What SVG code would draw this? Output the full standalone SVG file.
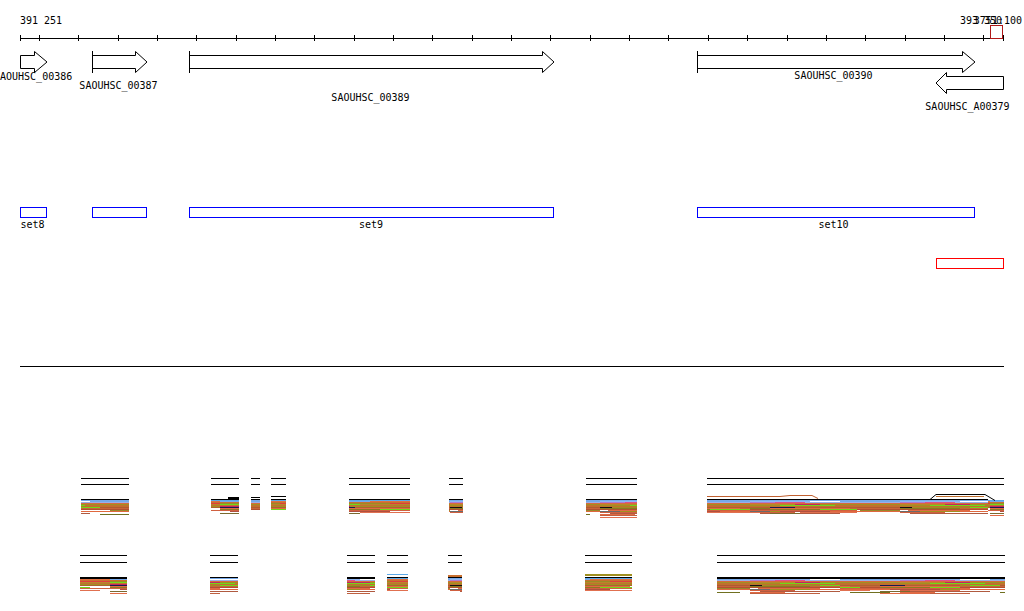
<svg xmlns="http://www.w3.org/2000/svg" width="1024" height="611" viewBox="0 0 1024 611">
<style>
text{font-family:"DejaVu Sans Mono","Liberation Mono",monospace;font-size:10px;fill:#000}
.c{text-anchor:middle}
.gene{fill:#fff;stroke:#000;stroke-width:1}
.tick{stroke:#000;stroke-width:1;fill:none}
.set{fill:none;stroke:#0000ff;stroke-width:1}
.ln{stroke:#000;stroke-width:1;shape-rendering:crispEdges}
.blk{shape-rendering:crispEdges}
</style>
<defs>
<pattern id="pA" patternUnits="userSpaceOnUse" x="0" y="499" width="150" height="26">
<g shape-rendering="crispEdges">
<rect x="0" y="0" width="150" height="1" fill="#000"/>
<rect x="0" y="1" width="150" height="1" fill="#76a9ea"/>
<rect x="0" y="2" width="60" height="1" fill="#8fb6f2"/><rect x="90" y="2" width="60" height="1" fill="#76a9ea"/>
<rect x="0" y="3" width="25" height="1" fill="#b07ad0"/><rect x="25" y="3" width="30" height="1" fill="#e0508a"/><rect x="55" y="3" width="95" height="1" fill="#9ab0e8"/>
<rect x="0" y="4" width="150" height="1" fill="#d86a3c"/>
<rect x="0" y="5" width="45" height="1" fill="#b8862a"/><rect x="45" y="5" width="25" height="1" fill="#c02860"/><rect x="70" y="5" width="80" height="1" fill="#a09020"/>
<rect x="0" y="6" width="30" height="1" fill="#a09020"/><rect x="30" y="6" width="55" height="1" fill="#70d818"/><rect x="85" y="6" width="65" height="1" fill="#c07030"/>
<rect x="0" y="7" width="150" height="1" fill="#c0702c"/>
<rect x="0" y="8" width="12" height="1" fill="#111"/><rect x="12" y="8" width="58" height="1" fill="#a08a24"/><rect x="70" y="8" width="30" height="1" fill="#70d818"/><rect x="100" y="8" width="50" height="1" fill="#b05a30"/>
<rect x="0" y="9" width="60" height="1" fill="#8a7a20"/><rect x="60" y="9" width="90" height="1" fill="#c8643a"/>
<rect x="0" y="10" width="150" height="1" fill="#b05030"/>
<rect x="8" y="11" width="62" height="1" fill="#e06a44"/><rect x="110" y="11" width="40" height="1" fill="#98882a"/>
<rect x="0" y="12" width="20" height="1" fill="#6a6a6a"/><rect x="20" y="12" width="40" height="1" fill="#a09020"/><rect x="60" y="12" width="90" height="1" fill="#e0683e"/>
<rect x="0" y="13" width="45" height="1" fill="#d06040"/>
<rect x="10" y="14" width="80" height="1" fill="#b05a40"/>
<rect x="0" y="15" width="35" height="1" fill="#e06a44"/><rect x="100" y="15" width="40" height="1" fill="#707020"/>
<rect x="0" y="16" width="70" height="1" fill="#c06040"/>
<rect x="0" y="18" width="40" height="1" fill="#e07050"/>
</g>
</pattern>
<pattern id="pB" patternUnits="userSpaceOnUse" x="0" y="499" width="110" height="26">
<g shape-rendering="crispEdges">
<rect x="0" y="0" width="110" height="1" fill="#000"/>
<rect x="0" y="1" width="110" height="1" fill="#5aa8e6"/>
<rect x="0" y="2" width="40" height="1" fill="#76a9ea"/><rect x="40" y="2" width="70" height="1" fill="#e07040"/>
<rect x="0" y="3" width="110" height="1" fill="#c87030"/>
<rect x="0" y="4" width="60" height="1" fill="#9a8c24"/><rect x="60" y="4" width="50" height="1" fill="#e03c3c"/>
<rect x="0" y="5" width="30" height="1" fill="#70d818"/><rect x="30" y="5" width="80" height="1" fill="#b8862a"/>
<rect x="0" y="6" width="110" height="1" fill="#c07030"/>
<rect x="0" y="7" width="20" height="1" fill="#c02860"/><rect x="20" y="7" width="90" height="1" fill="#a09020"/>
<rect x="0" y="8" width="25" height="1" fill="#1a1a50"/><rect x="25" y="8" width="85" height="1" fill="#b06030"/>
<rect x="0" y="9" width="80" height="1" fill="#e06a44"/>
<rect x="0" y="10" width="50" height="1" fill="#8a7a20"/><rect x="50" y="10" width="40" height="1" fill="#70d818"/>
<rect x="0" y="11" width="110" height="1" fill="#d06040"/>
<rect x="10" y="12" width="50" height="1" fill="#b05040"/>
<rect x="30" y="13" width="70" height="1" fill="#e07050"/>
<rect x="0" y="14" width="30" height="1" fill="#7a6a30"/>
<rect x="0" y="16" width="50" height="1" fill="#e06a44"/>
</g>
</pattern>
</defs>
<rect width="1024" height="611" fill="#fff"/>

<g id="ruler">
<line x1="20" y1="38.5" x2="1004" y2="38.5" class="ln"/>
<path class="tick" shape-rendering="crispEdges" d="M20.5,35V41M39.35,35V41M78.7,35V41M118.05,35V41M157.4,35V41M196.75,35V41M236.1,35V41M275.45,35V41M314.8,35V41M354.15,35V41M393.5,35V41M432.85,35V41M472.2,35V41M511.55,35V41M550.9,35V41M590.25,35V41M629.6,35V41M668.95,35V41M708.3,35V41M747.65,35V41M787,35V41M826.35,35V41M865.7,35V41M905.05,35V41M944.4,35V41M983.75,35V41M1003.5,35V41"/>
<text x="20" y="24">391 251</text>
<text x="960" y="24">393 350</text>
<text x="1022" y="24" text-anchor="end">3751:100</text>
<rect x="990.5" y="25.5" width="12" height="13" fill="none" stroke="#b01818" stroke-width="1"/>
</g>

<g id="gene-SAOUHSC_00386">
<path class="gene" d="M20.5,55.5H34.5V51.5L47,62L34.5,72.5V68.5H20.5Z"/>
<text x="0" y="80">AOUHSC_00386</text>
</g>
<g id="gene-SAOUHSC_00387">
<path class="gene" d="M92.5,55.5H135.5V51.5L147,62L135.5,72.5V68.5H92.5Z"/>
<line class="ln" x1="92.5" y1="50.5" x2="92.5" y2="72.5"/>
<text class="c" x="118.5" y="89">SAOUHSC_00387</text>
</g>
<g id="gene-SAOUHSC_00389">
<path class="gene" d="M189.5,55.5H542.5V51.5L554,62L542.5,72.5V68.5H189.5Z"/>
<line class="ln" x1="189.5" y1="50.5" x2="189.5" y2="72.5"/>
<text class="c" x="370.5" y="101">SAOUHSC_00389</text>
</g>
<g id="gene-SAOUHSC_00390">
<path class="gene" d="M697.5,55.5H962.5V51.5L975,62L962.5,72.5V68.5H697.5Z"/>
<line class="ln" x1="697.5" y1="50.5" x2="697.5" y2="72.5"/>
<text class="c" x="833.5" y="79">SAOUHSC_00390</text>
</g>
<g id="gene-SAOUHSC_A00379">
<path class="gene" d="M1003.5,76.5V89.5H946.5V93.5L936,83L946.5,72.5V76.5Z"/>
<text class="c" x="967.5" y="110">SAOUHSC_A00379</text>
</g>

<g id="set8">
<rect class="set" x="20.5" y="207.5" width="26" height="10"/>
<text class="c" x="32.5" y="228">set8</text>
</g>
<g id="set-unlabeled">
<rect class="set" x="92.5" y="207.5" width="54" height="10"/>
</g>
<g id="set9">
<rect class="set" x="189.5" y="207.5" width="364" height="10"/>
<text class="c" x="371" y="228">set9</text>
</g>
<g id="set10">
<rect class="set" x="697.5" y="207.5" width="277" height="10"/>
<text class="c" x="833.5" y="228">set10</text>
</g>
<g id="red-region">
<rect x="936.5" y="258.5" width="67" height="10" fill="none" stroke="#ff0000" stroke-width="1"/>
</g>

<g id="divider">
<line class="ln" x1="20" y1="366.5" x2="1004" y2="366.5"/>
</g>

<g id="track1">
<path class="ln" d="M81,478.5H129M81,484.5H129M211,478.5H239M211,484.5H239M251,478.5H260M251,484.5H260M271,478.5H286M271,484.5H286M349,478.5H410M349,484.5H410M449,478.5H463M449,484.5H463M586,478.5H637M586,484.5H637M707,478.5H1004M707,484.5H1004"/>
<rect class="blk" x="81" y="499" width="48" height="19" fill="url(#pA)"/>
<rect class="blk" x="211" y="499" width="28" height="15" fill="url(#pB)"/>
<rect class="blk" x="228" y="497" width="11" height="2" fill="#000"/>
<rect class="blk" x="251" y="497" width="9" height="1" fill="#000"/>
<rect class="blk" x="251" y="498" width="9" height="13" fill="url(#pA)"/>
<rect class="blk" x="271" y="496" width="15" height="1" fill="#000"/>
<rect class="blk" x="271" y="497" width="15" height="13" fill="url(#pB)"/>
<rect class="blk" x="349" y="499" width="61" height="15" fill="url(#pB)"/>
<rect class="blk" x="449" y="499" width="14" height="14" fill="url(#pA)"/>
<rect class="blk" x="586" y="499" width="51" height="19" fill="url(#pA)"/>
<rect class="blk" x="707" y="499" width="281" height="15" fill="url(#pA)"/>
<rect class="blk" x="707" y="507" width="150" height="7" fill="url(#pB)"/>
<rect class="blk" x="988" y="500" width="16" height="17" fill="url(#pB)"/>
<path d="M707,496.5H780L790,495.5H812L818,498.5" fill="none" stroke="#c06030" stroke-width="1"/>
<path d="M930,499.5L936,494.5H985L995,500.5" fill="none" stroke="#000" stroke-width="1"/>
<path d="M936,496.5H984" fill="none" stroke="#c07030" stroke-width="1"/>
</g>

<g id="track2">
<path class="ln" d="M80,555.5H127M80,562.5H127M210,555.5H238M210,562.5H238M347,555.5H375M347,562.5H375M387,555.5H408M387,562.5H408M448,555.5H462M448,562.5H462M585,555.5H632M585,562.5H632M717,555.5H1005M717,562.5H1005"/>
<rect class="blk" x="80" y="577" width="47" height="2" fill="#000"/>
<rect class="blk" x="80" y="579" width="47" height="16" fill="url(#pB)"/>
<rect class="blk" x="210" y="577" width="28" height="17" fill="url(#pA)"/>
<rect class="blk" x="347" y="577" width="28" height="2" fill="#000"/>
<rect class="blk" x="347" y="579" width="28" height="16" fill="url(#pA)"/>
<rect class="blk" x="387" y="574" width="21" height="1" fill="#5aa8e6"/>
<rect class="blk" x="387" y="577" width="21" height="18" fill="url(#pB)"/>
<rect class="blk" x="448" y="575" width="14" height="2" fill="#c87030"/>
<rect class="blk" x="448" y="577" width="14" height="15" fill="url(#pA)"/>
<rect class="blk" x="585" y="574" width="47" height="2" fill="#a09020"/>
<rect class="blk" x="585" y="577" width="47" height="16" fill="url(#pB)"/>
<rect class="blk" x="717" y="577" width="288" height="2" fill="#000"/>
<rect class="blk" x="717" y="579" width="288" height="16" fill="url(#pA)"/>
<rect class="blk" x="840" y="585" width="120" height="9" fill="url(#pB)"/>
</g>
</svg>
